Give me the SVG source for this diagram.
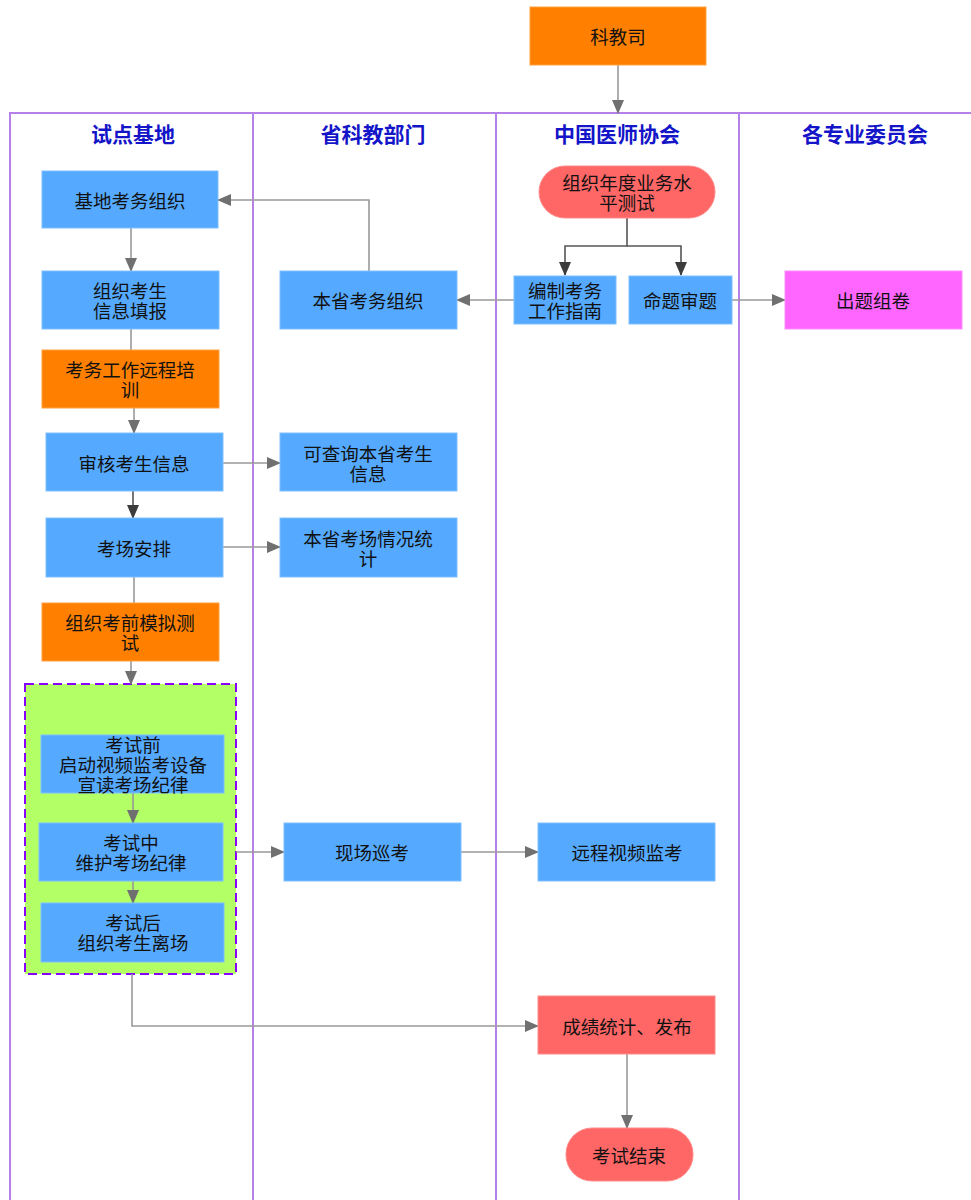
<svg xmlns="http://www.w3.org/2000/svg" width="971" height="1200" viewBox="0 0 971 1200">
<style>
text{font-family:"Noto Sans CJK SC","Liberation Sans",sans-serif;font-size:18.5px;fill:#111;text-anchor:middle;dominant-baseline:central}
.hd{font-size:21px;font-weight:bold;fill:#1414c8}
.blue{fill:#55aaff;stroke:#7fbfff;stroke-width:1}
.orange{fill:#ff8000;stroke:#ffa040;stroke-width:1}
.red{fill:#ff6666;stroke:#ff8a8a;stroke-width:1}
.pink{fill:#ff66ff;stroke:#ff8cff;stroke-width:1}
.lane{stroke:#b580e8;stroke-width:2;fill:none}
.c{stroke:#999;stroke-width:1.6;fill:none}
.cd{stroke:#555;stroke-width:1.6;fill:none}
</style>
<defs>
<marker id="a" markerUnits="userSpaceOnUse" markerWidth="14" markerHeight="12" refX="13" refY="6" orient="auto"><path d="M0,0 L14,6 L0,12 z" fill="#707070"/></marker>
<marker id="ad" markerUnits="userSpaceOnUse" markerWidth="14" markerHeight="12" refX="13" refY="6" orient="auto"><path d="M0,0 L14,6 L0,12 z" fill="#3c3c3c"/></marker>
</defs>
<rect width="971" height="1200" fill="#fff"/>
<g id="lanes">
<path class="lane" d="M10,1200 V113 H971 M253,113 V1200 M496,113 V1200 M739,113 V1200"/>
<text class="hd" x="133" y="133">试点基地</text>
<text class="hd" x="373" y="133">省科教部门</text>
<text class="hd" x="617" y="133">中国医师协会</text>
<text class="hd" x="865" y="133">各专业委员会</text>
</g>
<g id="container">
<rect x="25" y="684" width="211" height="290" fill="#b3ff66" stroke="#8800ff" stroke-width="2" stroke-dasharray="9,5"/>
</g>
<g id="connectors">
<path class="c" d="M618,65 V113" marker-end="url(#a)"/>
<path class="c" d="M369,271 V200 H218" marker-end="url(#a)"/>
<path class="cd" d="M627,218 V246 H565 V275" marker-end="url(#ad)"/>
<path class="cd" d="M627,246 H681 V275" marker-end="url(#ad)"/>
<path class="c" d="M732,300 H785" marker-end="url(#a)"/>
<path class="c" d="M514,300 H457" marker-end="url(#a)"/>
<path class="c" d="M131,228 V271" marker-end="url(#a)"/>
<path class="c" d="M131,329 V350"/>
<path class="c" d="M134,408 V433" marker-end="url(#a)"/>
<path class="c" d="M223,463 H280" marker-end="url(#a)"/>
<path class="cd" d="M133,491 V518" marker-end="url(#ad)"/>
<path class="c" d="M223,547 H280" marker-end="url(#a)"/>
<path class="c" d="M134,577 V603"/>
<path class="c" d="M131,661 V684" marker-end="url(#a)"/>
<path class="c" d="M133,793 V823" marker-end="url(#a)"/>
<path class="c" d="M133,881 V903" marker-end="url(#a)"/>
<path class="c" d="M236,852 H284" marker-end="url(#a)"/>
<path class="c" d="M461,852 H538" marker-end="url(#a)"/>
<path class="c" d="M132,974 V1026 H538" marker-end="url(#a)"/>
<path class="c" d="M627,1054 V1128" marker-end="url(#a)"/>
</g>
<g id="n-kejiaosi"><rect class="orange" x="530" y="7" width="176" height="58"/><text x="618" y="36">科教司</text></g>
<g id="n-jidikaowu"><rect class="blue" x="42" y="171" width="176" height="57"/><text x="130" y="200">基地考务组织</text></g>
<g id="n-niandu"><rect class="red" x="539" y="166" width="176" height="52" rx="26"/><text x="627" y="182">组织年度业务水<tspan x="627" dy="20">平测试</tspan></text></g>
<g id="n-bianzhi"><rect class="blue" x="514" y="276" width="102" height="48"/><text x="565" y="290">编制考务<tspan x="565" dy="20">工作指南</tspan></text></g>
<g id="n-mingti"><rect class="blue" x="629" y="276" width="103" height="48"/><text x="680" y="300">命题审题</text></g>
<g id="n-chuti"><rect class="pink" x="785" y="271" width="177" height="58"/><text x="873" y="300">出题组卷</text></g>
<g id="n-bensheng"><rect class="blue" x="280" y="271" width="177" height="58"/><text x="368" y="300">本省考务组织</text></g>
<g id="n-xinxi"><rect class="blue" x="42" y="271" width="177" height="58"/><text x="130" y="290">组织考生<tspan x="130" dy="20">信息填报</tspan></text></g>
<g id="n-peixun"><rect class="orange" x="42" y="350" width="177" height="58"/><text x="130" y="369">考务工作远程培<tspan x="130" dy="20">训</tspan></text></g>
<g id="n-shenhe"><rect class="blue" x="46" y="433" width="177" height="58"/><text x="134" y="463">审核考生信息</text></g>
<g id="n-chaxun"><rect class="blue" x="280" y="433" width="177" height="58"/><text x="368" y="453">可查询本省考生<tspan x="368" dy="20">信息</tspan></text></g>
<g id="n-anpai"><rect class="blue" x="46" y="518" width="177" height="59"/><text x="134" y="548">考场安排</text></g>
<g id="n-tongji"><rect class="blue" x="280" y="518" width="177" height="59"/><text x="368" y="538">本省考场情况统<tspan x="368" dy="20">计</tspan></text></g>
<g id="n-moni"><rect class="orange" x="42" y="603" width="177" height="58"/><text x="130" y="622">组织考前模拟测<tspan x="130" dy="20">试</tspan></text></g>
<g id="n-qian"><rect class="blue" x="41" y="735" width="183" height="58"/><text x="133" y="744">考试前<tspan x="133" dy="20">启动视频监考设备</tspan><tspan x="133" dy="20">宣读考场纪律</tspan></text></g>
<g id="n-zhong"><rect class="blue" x="39" y="823" width="184" height="58"/><text x="131" y="842">考试中<tspan x="131" dy="20">维护考场纪律</tspan></text></g>
<g id="n-hou"><rect class="blue" x="41" y="903" width="183" height="59"/><text x="133" y="922">考试后<tspan x="133" dy="20">组织考生离场</tspan></text></g>
<g id="n-xunkao"><rect class="blue" x="284" y="823" width="177" height="58"/><text x="372" y="852">现场巡考</text></g>
<g id="n-yuancheng"><rect class="blue" x="538" y="823" width="177" height="58"/><text x="627" y="852">远程视频监考</text></g>
<g id="n-chengji"><rect class="red" x="538" y="996" width="177" height="58"/><text x="627" y="1026">成绩统计、发布</text></g>
<g id="n-jieshu"><rect class="red" x="566" y="1128" width="127" height="53" rx="26"/><text x="629" y="1155">考试结束</text></g>
</svg>
